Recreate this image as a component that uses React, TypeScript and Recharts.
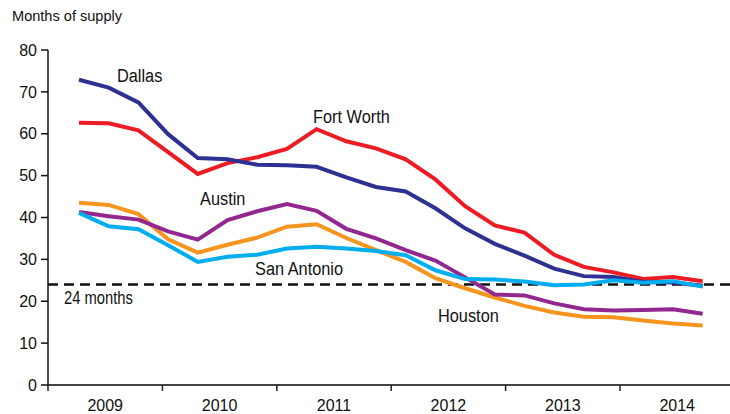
import { LineChart, Line, XAxis, YAxis, ReferenceLine } from 'recharts'

// quarterly readings, months of supply
const periods = [
  '2009 Q1', '2009 Q2', '2009 Q3', '2009 Q4',
  '2010 Q1', '2010 Q2', '2010 Q3', '2010 Q4',
  '2011 Q1', '2011 Q2', '2011 Q3', '2011 Q4',
  '2012 Q1', '2012 Q2', '2012 Q3', '2012 Q4',
  '2013 Q1', '2013 Q2', '2013 Q3', '2013 Q4',
  '2014 Q1', '2014 Q2',
]
const dallas = [72.9, 71.0, 67.5, 59.9, 54.2, 53.9, 52.6, 52.5, 52.1, 49.6, 47.3, 46.2, 42.2, 37.4, 33.7, 30.9, 27.8, 26.0, 25.8, 24.6, 24.5, 23.7]
const fortWorth = [62.6, 62.5, 60.8, 55.6, 50.4, 53.0, 54.4, 56.4, 61.1, 58.2, 56.5, 53.9, 49.1, 42.7, 38.1, 36.4, 31.1, 28.2, 26.9, 25.3, 25.8, 24.8]
const austin = [41.3, 40.3, 39.5, 36.7, 34.7, 39.4, 41.5, 43.2, 41.6, 37.3, 35.0, 32.2, 29.7, 25.7, 21.6, 21.4, 19.5, 18.1, 17.8, 17.9, 18.1, 17.0]
const houston = [43.5, 43.0, 40.8, 34.8, 31.6, 33.5, 35.2, 37.8, 38.4, 35.1, 32.2, 29.4, 25.5, 23.1, 20.9, 18.9, 17.3, 16.3, 16.2, 15.4, 14.7, 14.2]
const sanAntonio = [41.1, 37.9, 37.2, 33.4, 29.4, 30.6, 31.1, 32.6, 33.0, 32.6, 32.0, 31.0, 27.4, 25.3, 25.2, 24.7, 23.8, 24.0, 25.0, 24.4, 24.8, 23.5]

const years = ['2009', '2010', '2011', '2012', '2013', '2014']
// where each year starts, in units of data points
const yearStarts = [-1.044, 2.808, 6.66, 10.512, 14.364, 18.216]
const xDomain = [-1.044, 21.92]
const valueTicks = [0, 10, 20, 30, 40, 50, 60, 70, 80]
const threshold = 24

const data = periods.map((p, i) => ({
  period: p,
  idx: i,
  dallas: dallas[i],
  fortWorth: fortWorth[i],
  austin: austin[i],
  houston: houston[i],
  sanAntonio: sanAntonio[i],
}))

const font = "'Liberation Sans', Arial, sans-serif"
const HALF_YEAR_PX = 57.2

const labels = [
  { text: 'Dallas', x: 117, y: 82 },
  { text: 'Fort Worth', x: 313, y: 123 },
  { text: 'Austin', x: 200, y: 205 },
  { text: 'San Antonio', x: 255, y: 275 },
  { text: 'Houston', x: 438, y: 322 },
]

const YearTick = ({ x, y, payload }: any) => {
  const i = yearStarts.indexOf(payload.value)
  return (
    <text x={x + HALF_YEAR_PX} y={y + 18} textAnchor="middle" fontSize={16} fontFamily={font} fill="#111">
      {years[i]}
    </text>
  )
}

const Condensed = ({ x, y, size, sx, children }: any) => (
  <text transform={`translate(${x},${y}) scale(${sx},1)`} fontSize={size} fontFamily={font} fill="#111">
    {children}
  </text>
)

export default function App() {
  return (
    <div style={{ position: 'absolute', left: 0, top: 0, width: 730, height: 414, background: '#fff' }}>
      <LineChart width={730} height={414} data={data} margin={{ top: 50, right: 0, bottom: 0, left: 0 }}>
        <XAxis
          dataKey="idx"
          type="number"
          domain={xDomain}
          allowDataOverflow
          ticks={yearStarts}
          interval={0}
          tick={<YearTick />}
          tickSize={6}
          height={29}
          axisLine={{ stroke: '#444', strokeWidth: 2 }}
          tickLine={{ stroke: '#222', strokeWidth: 1.5 }}
        />
        <YAxis
          domain={[0, 80]}
          ticks={valueTicks}
          width={48}
          tickSize={7}
          tickMargin={4}
          interval={0}
          axisLine={{ stroke: '#111', strokeWidth: 1.5 }}
          tickLine={{ stroke: '#111', strokeWidth: 1.5 }}
          tick={{ fill: '#111', fontSize: 16, fontFamily: font }}
        />
        <ReferenceLine y={threshold} stroke="#111" strokeWidth={2.5} strokeDasharray="10 6" />
        <Line dataKey="houston" stroke="#f7941d" strokeWidth={4} dot={false} isAnimationActive={false} />
        <Line dataKey="austin" stroke="#92278f" strokeWidth={4} dot={false} isAnimationActive={false} />
        <Line dataKey="fortWorth" stroke="#ed1c24" strokeWidth={4} dot={false} isAnimationActive={false} />
        <Line dataKey="dallas" stroke="#2e3192" strokeWidth={4} dot={false} isAnimationActive={false} />
        <Line dataKey="sanAntonio" stroke="#00aeef" strokeWidth={4} dot={false} isAnimationActive={false} />
      </LineChart>
      <svg width={730} height={414} style={{ position: 'absolute', left: 0, top: 0, pointerEvents: 'none' }}>
        <Condensed x={12} y={21} size={15.5} sx={0.94}>Months of supply</Condensed>
        {labels.map(l => (
          <Condensed key={l.text} x={l.x} y={l.y} size={19} sx={0.86}>{l.text}</Condensed>
        ))}
        <Condensed x={64} y={304} size={18} sx={0.82}>24 months</Condensed>
      </svg>
    </div>
  )
}
